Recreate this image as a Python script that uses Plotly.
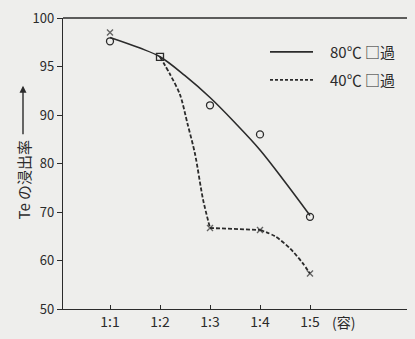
import plotly.graph_objects as go

# ---- data ----
ratio_labels = ["1:1", "1:2", "1:3", "1:4", "1:5"]
ratio_x = [1, 2, 3, 4, 5]

# 80°C measured points (open circles) and drawn smooth curve
hot_values = [97.6, 96.0, 91.0, 86.0, 69.0]
hot_curve_x = [1, 1.6, 2, 2.5, 3, 3.5, 4, 4.5, 5]
hot_curve_v = [98.0, 96.9, 96.0, 94.05, 91.8, 88.4, 82.8, 76.2, 69.3]

# 40°C measured points (crosses) and drawn dashed curve
cold_values = [98.5, 96.0, 66.7, 66.3, 57.3]
cold_curve_x = [2, 2.2, 2.4, 2.55, 2.7, 2.86, 3, 4, 4.3, 4.6, 4.85, 5]
cold_curve_v = [96.0, 94.2, 92.1, 88.2, 82.0, 72.6, 66.7, 66.3, 65.0, 62.5, 59.5, 57.3]

y_ticks = [50, 60, 70, 80, 90, 95, 100]
legend_labels = ["80\u2103 \u25a1過", "40\u2103 \u25a1過"]
y_title = "Te の浸出率"
x_unit = "(容)"

# ---- broken (expanded above 90) value scale ----
def pos(v):
    return v if v <= 90 else 90 + 2 * (v - 90)

INK = "#2b2b2b"
BG = "#eeeeec"
FONT = "Noto Sans CJK JP"
DASH = "4px,2px"

fig = go.Figure()

# 80°C curve (solid)
fig.add_trace(go.Scatter(
    x=hot_curve_x, y=[pos(v) for v in hot_curve_v], mode="lines",
    line=dict(color=INK, width=1.6, shape="spline", smoothing=1.0),
    hoverinfo="skip", showlegend=False))

# 40°C curve (dashed), three parts: curved drop, flat, curved drop
fig.add_trace(go.Scatter(
    x=cold_curve_x[:7], y=[pos(v) for v in cold_curve_v[:7]], mode="lines",
    line=dict(color=INK, width=1.8, dash=DASH, shape="spline", smoothing=0.8),
    hoverinfo="skip", showlegend=False))
fig.add_trace(go.Scatter(
    x=cold_curve_x[6:8], y=[pos(v) for v in cold_curve_v[6:8]], mode="lines",
    line=dict(color=INK, width=1.8, dash=DASH),
    hoverinfo="skip", showlegend=False))
fig.add_trace(go.Scatter(
    x=cold_curve_x[7:], y=[pos(v) for v in cold_curve_v[7:]], mode="lines",
    line=dict(color=INK, width=1.8, dash=DASH, shape="spline", smoothing=0.8),
    hoverinfo="skip", showlegend=False))

# markers
hot_symbols = ["circle-open", "square-open", "circle-open", "circle-open", "circle-open"]
fig.add_trace(go.Scatter(
    x=ratio_x, y=[pos(v) for v in hot_values], mode="markers",
    marker=dict(symbol=hot_symbols, size=7, color=INK, line=dict(width=1.3, color=INK)),
    showlegend=False))
fig.add_trace(go.Scatter(
    x=ratio_x, y=[pos(v) for v in cold_values], mode="markers",
    marker=dict(symbol="x-thin-open", size=[6, 0, 6, 6, 6], color=INK,
                line=dict(width=1.4, color=INK)),
    showlegend=False))

# manual legend
leg_y = [(313 - 47) / 301, (313 - 76) / 301]
for i, (lbl, dash) in enumerate(zip(legend_labels, ["solid", "3px,2px"])):
    fig.add_shape(type="line", xref="paper", yref="paper",
                  x0=(270 - 63) / 344, x1=(313 - 63) / 344, y0=leg_y[i], y1=leg_y[i],
                  line=dict(color=INK, width=1.6, dash=dash))
    fig.add_annotation(xref="paper", yref="paper", x=(328 - 63) / 344, y=leg_y[i],
                       text=lbl, showarrow=False, xanchor="left", yanchor="middle",
                       font=dict(family=FONT, size=15, color=INK))

# y title with upward arrow
fig.add_annotation(xref="paper", yref="paper", x=(23 - 63) / 344, y=(313 - 179) / 301,
                   text=y_title, textangle=-90, showarrow=False,
                   xanchor="center", yanchor="middle",
                   font=dict(family=FONT, size=15, color=INK))
fig.add_annotation(xref="paper", yref="paper", x=(23 - 63) / 344, y=(313 - 82) / 301,
                   ax=0, ay=50, text="", showarrow=True, arrowhead=2, arrowsize=1,
                   arrowwidth=1.4, arrowcolor=INK)

# unit label after last tick
fig.add_annotation(xref="x", yref="paper", x=5.66, y=-(326 - 313) / 301, text=x_unit,
                   showarrow=False, yanchor="middle", xanchor="center",
                   font=dict(family=FONT, size=14, color=INK))

# top frame line
fig.add_shape(type="line", xref="paper", yref="paper", x0=0, x1=1, y0=1, y1=1,
              line=dict(color=INK, width=1.4))

fig.update_layout(
    width=415, height=339,
    margin=dict(l=63, r=8, t=12, b=26),
    paper_bgcolor=BG, plot_bgcolor=BG,
    font=dict(family=FONT, color=INK),
    showlegend=False,
    xaxis=dict(range=[0.06, 6.94], tickvals=ratio_x, ticktext=ratio_labels,
               showgrid=False, zeroline=False, showline=True, linecolor=INK, linewidth=1.4,
               ticks="inside", ticklen=4, tickcolor=INK, tickwidth=1.2,
               tickfont=dict(family=FONT, size=14, color=INK)),
    yaxis=dict(range=[50, 110], tickvals=[pos(v) for v in y_ticks],
               ticktext=[str(v) for v in y_ticks],
               showgrid=False, zeroline=False, showline=True, linecolor=INK, linewidth=1.4,
               ticks="outside", ticklen=5, tickcolor=INK, tickwidth=1.2,
               tickfont=dict(family=FONT, size=13, color=INK)),
)

fig.write_html(
    "out.html",
    config={"displayModeBar": False},
    post_script="document.body.style.margin='0';document.body.style.background='#eeeeec';",
)
